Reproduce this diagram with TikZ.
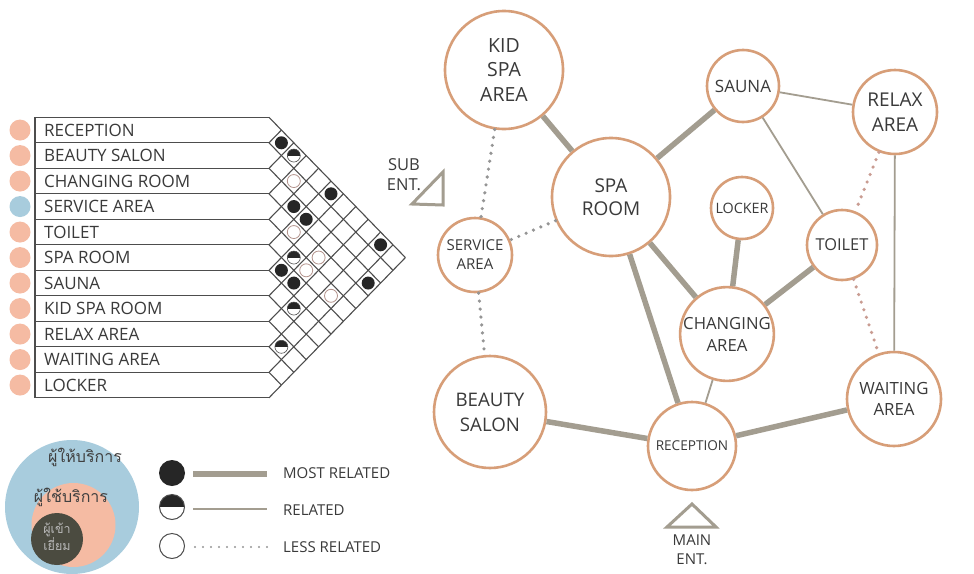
\documentclass[tikz,border=0pt]{standalone}
\usepackage{fontspec}
\setmainfont{Open Sans}
\newfontfamily\thaifont[Script=Thai]{Loma}
\usetikzlibrary{positioning}

\definecolor{ringorange}{HTML}{D79E78}
\definecolor{linkgrey}{HTML}{A39D90}
\definecolor{gridgrey}{HTML}{4D4D4D}
\definecolor{txtgrey}{HTML}{3A3A3A}
\definecolor{salmon}{HTML}{F5BBA3}
\definecolor{skyblue}{HTML}{A8CCDD}
\definecolor{darkolive}{HTML}{4B4B40}
\definecolor{dotgrey}{HTML}{959595}
\definecolor{dotpink}{HTML}{C99C92}

\tikzset{
  bubble/.style={circle, draw=ringorange, line width=2.6pt, fill=white, inner sep=0pt,
    align=center, text=txtgrey, font=\fontsize{18}{23}\selectfont},
  mostrel/.style={line width=5.5pt, draw=linkgrey},
  rel/.style={line width=1.8pt, draw=linkgrey},
  lessrel/.style={line width=3.6pt, draw=dotgrey, line cap=round, dash pattern=on 0pt off 8pt},
  gridline/.style={draw=gridgrey, line width=1.1pt},
  rowlabel/.style={anchor=west, inner sep=0pt, text=txtgrey, font=\fontsize{17}{17}\selectfont},
  keydot/.style={circle, minimum size=21pt, inner sep=0pt},
  fulldot/.style={circle, fill=black!85, minimum size=13pt, inner sep=0pt},
  halfdot/.style={circle, draw=gridgrey, line width=0.6pt, fill=white, minimum size=13pt, inner sep=0pt,
    path picture={\fill[black!85] (path picture bounding box.west) rectangle (path picture bounding box.north east);}},
  opendot/.style={circle, draw=dotpink!70!gray, line width=0.8pt, fill=white, minimum size=13pt, inner sep=0pt},
  entry/.style={draw=linkgrey, line width=3pt, line join=miter},
  entrytext/.style={text=txtgrey, font=\fontsize{15}{15}\selectfont, inner sep=0pt}
}

\begin{document}
\begin{tikzpicture}[x=1pt, y=-1pt]
\useasboundingbox[fill=white] (0,0) rectangle (974,573);

% Relationship matrix
\foreach \k in {0,...,11} {
  \pgfmathsetmacro\by{117.3+25.5*\k}
  \draw[gridline] (35,\by) -- (269,\by);
  \draw[gridline] (269,\by) -- ++({(11-\k)*12.4},{(11-\k)*12.75});
  \draw[gridline] (269,\by) -- ++({\k*12.4},{-\k*12.75});
}
\draw[gridline] (35,117.3) -- (35,397.8);

\foreach \name/\col [count=\i from 0] in {RECEPTION/salmon, BEAUTY SALON/salmon,
    CHANGING ROOM/salmon, SERVICE AREA/skyblue, TOILET/salmon, SPA ROOM/salmon,
    SAUNA/salmon, KID SPA ROOM/salmon, RELAX AREA/salmon, WAITING AREA/salmon, LOCKER/salmon} {
  \node[keydot, fill=\col] (key\i) at (20,{130.05+25.5*\i}) {};
  \node[rowlabel] (row\i) at (44,{130.05+25.5*\i}) {\name};
}

\foreach \i/\j/\kind in {0/1/fulldot, 0/2/halfdot, 1/3/opendot, 0/5/fulldot, 2/4/fulldot,
    2/5/fulldot, 3/5/opendot, 0/9/fulldot, 4/6/halfdot, 3/7/opendot, 5/6/fulldot,
    4/7/opendot, 5/7/fulldot, 2/10/fulldot, 4/9/opendot, 6/8/halfdot, 8/9/halfdot}
  \node[\kind] (cell\i-\j) at ({269+(\j-\i)*12.4},{130.05+12.75*(\i+\j)}) {};

% Bubble diagram
\node[bubble, minimum size=118pt, font=\fontsize{19.5}{24.5}\selectfont] (kidspa) at (504,70) {KID\\SPA\\AREA};
\node[bubble, minimum size=118pt, font=\fontsize{19}{23}\selectfont] (sparoom) at (611,197) {SPA\\ROOM};
\node[bubble, minimum size=74pt, font=\fontsize{15}{19}\selectfont] (service) at (475,255) {SERVICE\\AREA};
\node[bubble, minimum size=72pt, font=\fontsize{17}{17}\selectfont] (sauna) at (743,86) {SAUNA};
\node[bubble, minimum size=84pt, font=\fontsize{19}{25}\selectfont] (relax) at (895,112) {RELAX\\AREA};
\node[bubble, minimum size=62pt, font=\fontsize{14.3}{14.3}\selectfont] (locker) at (742,208) {LOCKER};
\node[bubble, minimum size=70pt, font=\fontsize{16.4}{16.4}\selectfont] (toilet) at (842,245) {TOILET};
\node[bubble, minimum size=92pt, font=\fontsize{16.7}{22}\selectfont] (changing) at (727,334) {CHANGING\\AREA};
\node[bubble, minimum size=112pt, font=\fontsize{18.7}{25}\selectfont] (beauty) at (490,412) {BEAUTY\\SALON};
\node[bubble, minimum size=88pt, font=\fontsize{13.6}{13.6}\selectfont] (reception) at (692,446) {RECEPTION};
\node[bubble, minimum size=94pt, font=\fontsize{16.8}{21}\selectfont] (waiting) at (894,399) {WAITING\\AREA};

\draw[mostrel] (kidspa) -- (sparoom);
\draw[mostrel] (sparoom) -- (sauna);
\draw[mostrel] (sparoom) -- (changing);
\draw[mostrel] (sparoom) -- (reception);
\draw[mostrel] (beauty) -- (reception);
\draw[mostrel] (reception) -- (waiting);
\draw[mostrel] (locker) -- (changing);
\draw[mostrel] (changing) -- (toilet);
\draw[rel] (reception) -- (changing);
\draw[rel] (sauna) -- (relax);
\draw[rel] (sauna) -- (toilet);
\draw[rel] (relax) -- (waiting);
\draw[lessrel] (sparoom) -- (service);
\draw[lessrel] (kidspa) -- (service);
\draw[lessrel] (service) -- (beauty);
\draw[lessrel, draw=dotpink] (relax) -- (toilet);
\draw[lessrel, draw=dotpink] (toilet) -- (waiting);

% Entrances
\draw[entry] (412,204) -- (443,172) -- (443,205) -- cycle;
\node[entrytext, font=\fontsize{16.5}{16.5}\selectfont] (subent) at (404,165) {SUB};
\node[entrytext, font=\fontsize{16.5}{16.5}\selectfont, below=7pt of subent.south] (subent2) {ENT.};
\draw[entry] (667,527) -- (716,527) -- (692,504) -- cycle;
\node[entrytext] (mainent) at (692,540) {MAIN};
\node[entrytext, below=8pt of mainent.south] (mainent2) {ENT.};

% User groups
\fill[skyblue] (72,507) circle[radius=67];
\fill[salmon] (73.5,525) circle[radius=42];
\fill[darkolive] (57,539) circle[radius=26];
\node[font=\thaifont\fontsize{16}{16}\selectfont, text=black!75] (provider) at (85,457) {ผู้ให้บริการ};
\node[font=\thaifont\fontsize{16}{16}\selectfont, text=black!75] (user) at (71,497) {ผู้ใช้บริการ};
\node[font=\thaifont\fontsize{12.5}{17}\selectfont, text=gray!55, align=center] (visitor) at (57,537) {ผู้เข้า\\เยี่ยม};

% Legend
\node[fulldot, minimum size=26pt] (keyfull) at (172,473) {};
\node[halfdot, minimum size=25pt, line width=1pt] (keyhalf) at (172,507) {};
\node[opendot, minimum size=25pt, draw=gridgrey, line width=1pt] (keyopen) at (172,546) {};
\coordinate (mostA) at (193,474);
\coordinate (mostB) at (267,474);
\coordinate (relA) at (193,509);
\coordinate (relB) at (267,509);
\coordinate (lessA) at (195,547);
\coordinate (lessB) at (267,547);
\draw[mostrel] (mostA) -- (mostB);
\draw[rel] (relA) -- (relB);
\draw[lessrel, line width=2.4pt] (lessA) -- (lessB);
\node[rowlabel, font=\fontsize{15}{15}\selectfont] (mosttext) at (283,473) {MOST RELATED};
\node[rowlabel, font=\fontsize{15}{15}\selectfont] (reltext) at (283,510) {RELATED};
\node[rowlabel, font=\fontsize{15}{15}\selectfont] (lesstext) at (283,547) {LESS RELATED};

\end{tikzpicture}
\end{document}
